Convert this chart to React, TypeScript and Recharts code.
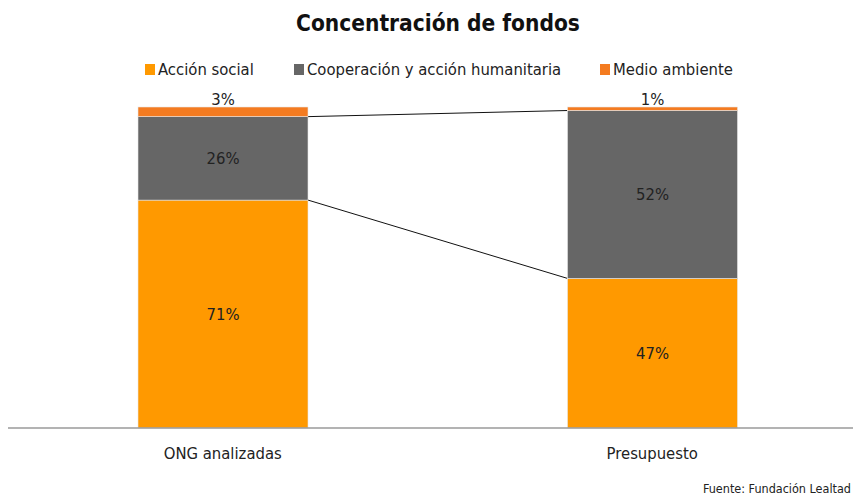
import React from "react";
import { BarChart, Bar, XAxis, YAxis, LabelList } from "recharts";

const categories = ["ONG analizadas", "Presupuesto"];
const accionSocial = [71, 46.6];
const cooperacion = [26, 52.3];
const medioAmbiente = [3, 1.1];
const seriesNames = ["Acción social", "Cooperación y acción humanitaria", "Medio ambiente"];
const seriesColors = ["#FF9900", "#666666", "#F47B20"];

const data = categories.map((c, i) => ({
  name: c,
  social: accionSocial[i],
  coop: cooperacion[i],
  medio: medioAmbiente[i],
}));

const W = 853;
const H = 498;
const M = { top: 107, right: -14, bottom: 30, left: 8 };
const PLOT_W = W - M.left - M.right;
const STEP = PLOT_W / categories.length;
const FONT = "'DejaVu Sans Condensed', 'DejaVu Sans', sans-serif";
const FS = 16.5;

const cumSocial = accionSocial.map((v) => v);
const cumCoop = accionSocial.map((v, i) => v + cooperacion[i]);

function makeShape(values: number[], cum: number[] | null) {
  return (props: any) => {
    const { x, y, width, height, index, fill } = props;
    const v = values[index];
    let line = null;
    if (cum && index === 0 && v > 0) {
      const ppu = height / v;
      const yNext = y + (cum[0] - cum[1]) * ppu;
      line = (
        <line x1={x + width} y1={y} x2={x + STEP} y2={yNext} stroke="#111" strokeWidth={1} />
      );
    }
    return (
      <g>
        <rect x={x} y={y} width={width} height={height} fill={fill} stroke="#e6e6e6" strokeWidth={0.6} />
        {line}
      </g>
    );
  };
}

const fmt = (v: any) => `${Math.round(Number(v))}%`;

const Tick = (props: any) => {
  const { x, y, payload } = props;
  return (
    <text x={x} y={y + 23} textAnchor="middle" fontFamily={FONT} fontSize={FS} fill="#222">
      {payload.value}
    </text>
  );
};

export default function App() {
  return (
    <div style={{ position: "fixed", left: 0, top: 0, width: W, height: H, background: "#fff", overflow: "hidden" }}>
      <div
        style={{
          position: "absolute",
          top: 10,
          left: 0,
          width: 876,
          textAlign: "center",
          fontFamily: FONT,
          fontWeight: "bold",
          fontSize: 22.5,
          color: "#111",
        }}
      >
        Concentración de fondos
      </div>
      <div style={{ position: "absolute", top: 60, left: 0, width: W, height: 22, fontFamily: FONT, fontSize: FS, color: "#222" }}>
        {seriesNames.map((n, i) => (
          <div
            key={n}
            style={{ position: "absolute", left: [145, 294, 600][i], top: 0, display: "flex", alignItems: "center", whiteSpace: "nowrap" }}
          >
            <span style={{ display: "inline-block", width: 10, height: 11, background: seriesColors[i], marginRight: 3 }} />
            <span>{n}</span>
          </div>
        ))}
      </div>
      <div style={{ position: "absolute", left: 0, top: 0 }}>
        <BarChart width={W} height={H} data={data} margin={M} barSize={170}>
          <XAxis
            dataKey="name"
            axisLine={{ stroke: "#9a9a9a", strokeWidth: 1.5 }}
            tickLine={false}
            height={40}
            tick={<Tick />}
            interval={0}
          />
          <YAxis hide domain={[0, 100]} />
          <Bar dataKey="social" stackId="a" fill={seriesColors[0]} isAnimationActive={false} shape={makeShape(accionSocial, cumSocial)}>
            <LabelList dataKey="social" position="center" formatter={fmt} fill="#222" fontSize={FS} fontFamily={FONT} />
          </Bar>
          <Bar dataKey="coop" stackId="a" fill={seriesColors[1]} isAnimationActive={false} shape={makeShape(cooperacion, cumCoop)}>
            <LabelList dataKey="coop" position="center" formatter={fmt} fill="#222" fontSize={FS} fontFamily={FONT} />
          </Bar>
          <Bar dataKey="medio" stackId="a" fill={seriesColors[2]} isAnimationActive={false} shape={makeShape(medioAmbiente, null)}>
            <LabelList dataKey="medio" position="top" offset={2} formatter={fmt} fill="#222" fontSize={FS} fontFamily={FONT} />
          </Bar>
        </BarChart>
      </div>
      <div style={{ position: "absolute", right: 2, top: 481, fontFamily: FONT, fontSize: 12.5, color: "#222", whiteSpace: "nowrap" }}>
        Fuente: Fundación Lealtad
      </div>
    </div>
  );
}
